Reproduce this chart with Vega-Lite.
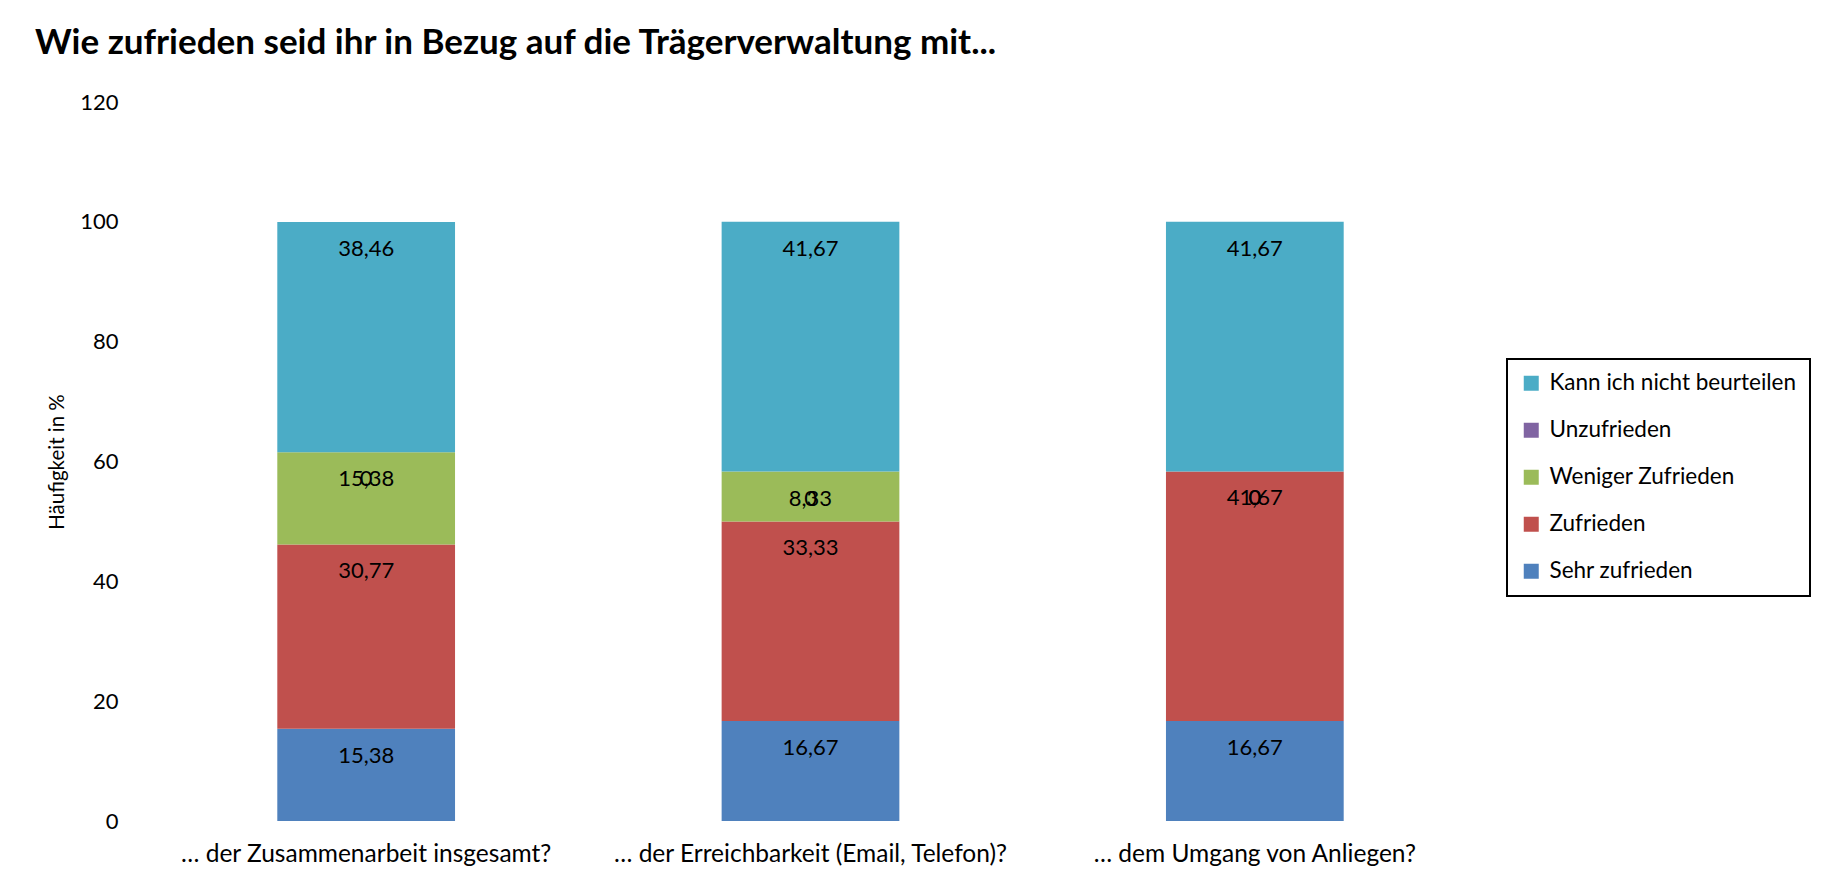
{
  "$schema": "https://vega.github.io/schema/vega-lite/v6.json",
  "width": 1333,
  "height": 719,
  "autosize": {"type": "none"},
  "padding": {"left": 144, "top": 102, "right": 364, "bottom": 62},
  "background": "white",
  "title": {
    "text": "Wie zufrieden seid ihr in Bezug auf die Trägerverwaltung mit...",
    "anchor": "start",
    "frame": "group",
    "dx": -109,
    "offset": 30,
    "font": "Lato",
    "fontSize": 35,
    "fontWeight": "bold",
    "color": "black"
  },
  "data": {
    "values": [
      {"Frage": "… der Zusammenarbeit insgesamt?", "Kategorie": "Sehr zufrieden", "Stufe": 1, "Prozent": 15.38},
      {"Frage": "… der Zusammenarbeit insgesamt?", "Kategorie": "Zufrieden", "Stufe": 2, "Prozent": 30.77},
      {"Frage": "… der Zusammenarbeit insgesamt?", "Kategorie": "Weniger Zufrieden", "Stufe": 3, "Prozent": 15.38},
      {"Frage": "… der Zusammenarbeit insgesamt?", "Kategorie": "Unzufrieden", "Stufe": 4, "Prozent": 0},
      {"Frage": "… der Zusammenarbeit insgesamt?", "Kategorie": "Kann ich nicht beurteilen", "Stufe": 5, "Prozent": 38.46},
      {"Frage": "… der Erreichbarkeit (Email, Telefon)?", "Kategorie": "Sehr zufrieden", "Stufe": 1, "Prozent": 16.67},
      {"Frage": "… der Erreichbarkeit (Email, Telefon)?", "Kategorie": "Zufrieden", "Stufe": 2, "Prozent": 33.33},
      {"Frage": "… der Erreichbarkeit (Email, Telefon)?", "Kategorie": "Weniger Zufrieden", "Stufe": 3, "Prozent": 8.33},
      {"Frage": "… der Erreichbarkeit (Email, Telefon)?", "Kategorie": "Unzufrieden", "Stufe": 4, "Prozent": 0},
      {"Frage": "… der Erreichbarkeit (Email, Telefon)?", "Kategorie": "Kann ich nicht beurteilen", "Stufe": 5, "Prozent": 41.67},
      {"Frage": "… dem Umgang von Anliegen?", "Kategorie": "Sehr zufrieden", "Stufe": 1, "Prozent": 16.67},
      {"Frage": "… dem Umgang von Anliegen?", "Kategorie": "Zufrieden", "Stufe": 2, "Prozent": 41.67},
      {"Frage": "… dem Umgang von Anliegen?", "Kategorie": "Weniger Zufrieden", "Stufe": 3, "Prozent": 0},
      {"Frage": "… dem Umgang von Anliegen?", "Kategorie": "Unzufrieden", "Stufe": 4, "Prozent": 0},
      {"Frage": "… dem Umgang von Anliegen?", "Kategorie": "Kann ich nicht beurteilen", "Stufe": 5, "Prozent": 41.67}
    ]
  },
  "layer": [
    {
      "mark": {"type": "bar"},
      "encoding": {
        "x": {
          "field": "Frage", "type": "nominal", "sort": null,
          "scale": {"paddingInner": 0.6, "paddingOuter": 0.3},
          "axis": {"title": null, "labelAngle": 0, "domain": false, "ticks": false, "labelPadding": 21,
                   "labelFont": "Lato", "labelFontSize": 24.5, "labelColor": "black", "labelLimit": 500}
        },
        "y": {
          "field": "Prozent", "type": "quantitative", "stack": "zero",
          "scale": {"domain": [0, 120]},
          "axis": {"title": "Häufigkeit in %", "values": [0, 20, 40, 60, 80, 100, 120], "grid": false,
                   "domain": false, "ticks": false, "labelPadding": 26, "labelFont": "Lato", "labelFontSize": 22,
                   "labelColor": "black", "titleFont": "Lato", "titleFontSize": 20.5, "titleFontWeight": "normal",
                   "titleColor": "black", "titlePadding": 12}
        },
        "order": {"field": "Stufe", "type": "quantitative", "sort": "ascending"},
        "color": {
          "field": "Kategorie", "type": "nominal",
          "scale": {
            "domain": ["Kann ich nicht beurteilen", "Unzufrieden", "Weniger Zufrieden", "Zufrieden", "Sehr zufrieden"],
            "range": ["#4BACC6", "#8064A2", "#9BBB59", "#C0504D", "#4F81BD"]
          },
          "legend": {
            "title": null, "orient": "none", "legendX": 1363, "legendY": 257,
            "symbolType": "square", "symbolSize": 225, "symbolStrokeWidth": 0,
            "labelFont": "Lato", "labelFontSize": 22.5, "labelColor": "black", "labelOffset": 7, "labelLimit": 400,
            "rowPadding": 24, "padding": 13, "strokeColor": "black"
          }
        }
      }
    },
    {
      "mark": {"type": "text", "dy": 27, "font": "Lato", "fontSize": 22, "baseline": "middle", "color": "black"},
      "encoding": {
        "x": {"field": "Frage", "type": "nominal", "sort": null},
        "y": {"field": "Prozent", "type": "quantitative", "stack": "zero"},
        "detail": {"field": "Kategorie", "type": "nominal"},
        "order": {"field": "Stufe", "type": "quantitative", "sort": "ascending"},
        "text": {"field": "Prozent", "type": "quantitative", "format": ".2~f"}
      }
    }
  ],
  "config": {
    "view": {"stroke": null},
    "legend": {"strokeWidth": 2},
    "locale": {"number": {"decimal": ",", "thousands": ".", "grouping": [3], "currency": ["", " €"]}}
  }
}
